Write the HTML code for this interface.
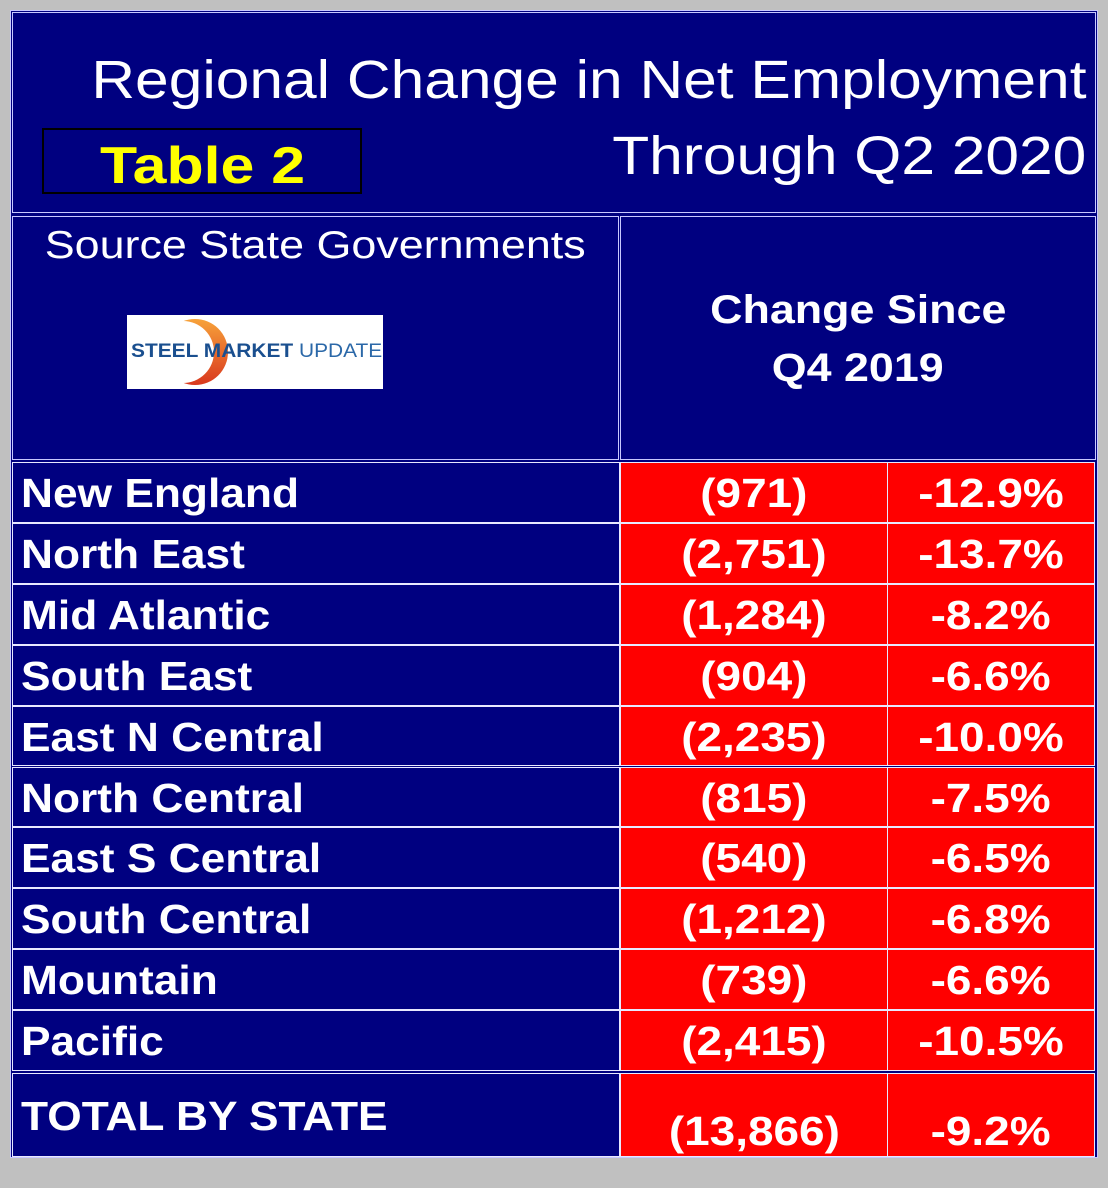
<!DOCTYPE html>
<html><head><meta charset="utf-8">
<style>
html,body{margin:0;}
body{background:#c0c0c0;width:1108px;height:1168px;position:relative;overflow:hidden;font-family:"Liberation Sans",Arial,sans-serif;}
.a{position:absolute;box-sizing:border-box;}
.navy{background:#000080;}
.red{background:#ff0000;}
.s{display:inline-block;transform:scaleX(1.12);}
.lbl{color:#fff;font-weight:bold;font-size:41px;line-height:61px;padding-left:8px;white-space:nowrap;}
.lbl .s{transform:scaleX(1.08);transform-origin:left center;}
.num{color:#fff;font-weight:bold;font-size:41px;line-height:61px;text-align:center;white-space:nowrap;}
.num .s{transform-origin:center center;}
</style></head><body>
<div class="a" style="left:10px;top:10px;width:1088px;height:1148px;background:#000080;border:1px solid #c8c8ff;"></div>
<div class="a navy" style="left:12px;top:12px;width:1084px;height:201px;border:1px solid #c8c8ff;"></div>
<div class="a" style="left:12px;top:42px;width:1074px;text-align:right;color:#fff;font-size:54px;line-height:76px;"><span class="s" style="transform:scaleX(1.12);transform-origin:right center;">Regional Change in Net Employment</span><br><span class="s" style="transform:scaleX(1.12);transform-origin:right center;">Through Q2 2020</span></div>
<div class="a" style="left:42px;top:128px;width:320px;height:66px;border:2px solid #000;"></div>
<div class="a" style="left:42px;top:136px;width:320px;padding-left:58px;color:#ff0;font-weight:bold;font-size:52px;line-height:60px;"><span class="s" style="transform:scaleX(1.17);transform-origin:left center;">Table 2</span></div>
<div class="a navy" style="left:12px;top:216px;width:607px;height:244px;border:1px solid #c8c8ff;"></div>
<div class="a" style="left:12px;top:222px;width:607px;text-align:center;color:#fff;font-size:39px;line-height:48px;"><span class="s" style="transform:scaleX(1.15);">Source State Governments</span></div>
<div class="a" style="left:127px;top:315px;width:256px;height:74px;background:#fff;overflow:hidden;">
<svg width="256" height="74" style="position:absolute;left:0;top:0"><defs><linearGradient id="g" x1="0" y1="0" x2="0" y2="1"><stop offset="0" stop-color="#f7a23a"/><stop offset="1" stop-color="#d9381e"/></linearGradient></defs><circle cx="68" cy="37" r="33" fill="url(#g)"/><circle cx="56" cy="37" r="31" fill="#fff"/></svg>
<div class="a" style="left:4px;top:26px;font-size:19px;font-weight:bold;color:#1a4f8f;white-space:nowrap;transform:scaleX(1.1);transform-origin:left center;">STEEL MARKET <span style="font-weight:normal;color:#2b68a8">UPDATE</span></div>
</div>
<div class="a navy" style="left:620px;top:216px;width:476px;height:244px;border:1px solid #c8c8ff;"></div>
<div class="a" style="left:620px;top:281px;width:476px;text-align:center;color:#fff;font-weight:bold;font-size:40px;line-height:58px;"><span class="s">Change Since</span><br><span class="s">Q4 2019</span></div>
<div id="rows"></div>
<script>
const regions=["New England","North East","Mid Atlantic","South East","East N Central","North Central","East S Central","South Central","Mountain","Pacific"];
const changes=["(971)","(2,751)","(1,284)","(904)","(2,235)","(815)","(540)","(1,212)","(739)","(2,415)"];
const pcts=["-12.9%","-13.7%","-8.2%","-6.6%","-10.0%","-7.5%","-6.5%","-6.8%","-6.6%","-10.5%"];
const totalLabel="TOTAL BY STATE",totalChange="(13,866)",totalPct="-9.2%";
const root=document.getElementById('rows');
function cell(cls,x,y,w,h,txt,name,extra){const d=document.createElement('div');d.className='a '+cls;d.style.cssText=`left:${x}px;top:${y}px;width:${w}px;height:${h}px;border:1px solid #e8e8ff;${extra||''}`;
const s=document.createElement('span');s.className='s';s.textContent=txt;d.appendChild(s);


root.appendChild(d);return d;}
const y0=462,rh=60.9;
regions.forEach((r,i)=>{const y=y0+i*rh;
cell('navy lbl',12,y,608,rh,r,'region-label');
cell('red num',620,y,268,rh,changes[i],'change-value');
cell('red num',887,y,208,rh,pcts[i],'percent-value');});
const ty=y0+10*rh+2,th=1157-ty;
cell('navy lbl',12,ty,608,th,totalLabel,'total-label','line-height:84px;');
cell('red num',620,ty,268,th,totalChange,'total-change','line-height:114px;');
cell('red num',887,ty,208,th,totalPct,'total-percent','line-height:114px;');
</script>
</body></html>
